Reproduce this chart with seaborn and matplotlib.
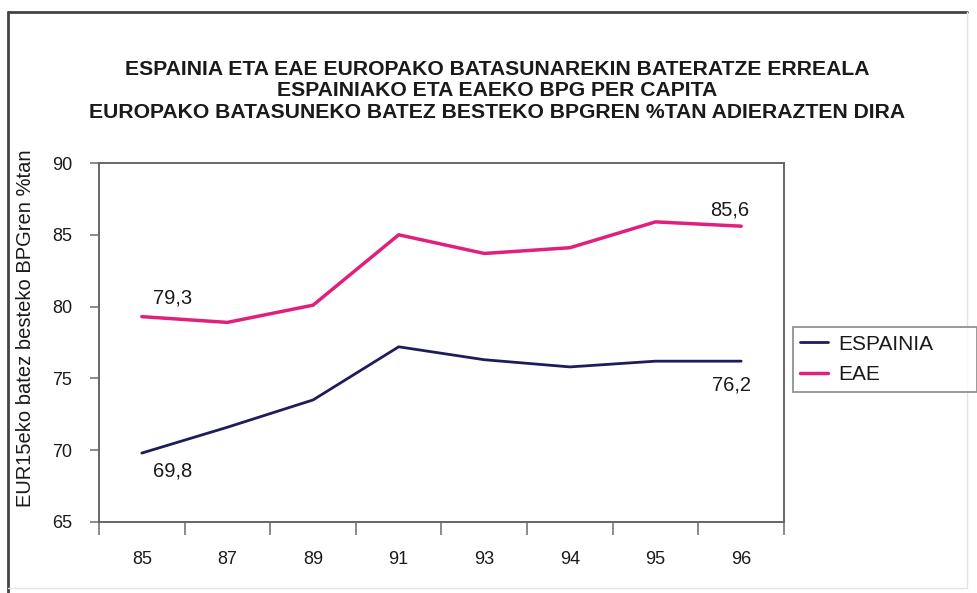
import matplotlib
matplotlib.use("Agg")
import matplotlib.pyplot as plt
import seaborn as sns
import pandas as pd
from matplotlib.lines import Line2D

years = ["85", "87", "89", "91", "93", "94", "95", "96"]
espainia = [69.8, 71.6, 73.5, 77.2, 76.3, 75.8, 76.2, 76.2]
eae = [79.3, 78.9, 80.1, 85.0, 83.7, 84.1, 85.9, 85.6]
series_names = ["ESPAINIA", "EAE"]
colors = {"ESPAINIA": "#1f1c5c", "EAE": "#e0207c"}
widths = {"ESPAINIA": 2.0, "EAE": 2.5}
title = ("ESPAINIA ETA EAE EUROPAKO BATASUNAREKIN BATERATZE ERREALA\n"
         "ESPAINIAKO ETA EAEKO BPG PER CAPITA\n"
         "EUROPAKO BATASUNEKO BATEZ BESTEKO BPGREN %TAN ADIERAZTEN DIRA")
ylabel = "EUR15eko batez besteko BPGren %tan"
yticks = [65, 70, 75, 80, 85, 90]

df = pd.DataFrame({
    "year": years * 2,
    "value": espainia + eae,
    "series": [series_names[0]] * len(years) + [series_names[1]] * len(years),
})

sns.set_theme(style="white")
plt.rcParams["font.family"] = ["Liberation Sans", "DejaVu Sans"]
TXT = "#1a1a1a"

fig = plt.figure(figsize=(9.78, 5.93), dpi=100)
ax = fig.add_axes([99 / 978, 1 - 522 / 593, (784 - 99) / 978, (522 - 163) / 593])

for name in series_names:
    sns.lineplot(data=df[df["series"] == name], x="year", y="value", color=colors[name],
                 linewidth=widths[name], ax=ax, legend=False, sort=False)

ax.set_xlim(-0.5, len(years) - 0.5)
ax.set_ylim(65, 90)
ax.set_yticks(yticks)
ax.set_yticklabels([str(v) for v in yticks], fontsize=13, color=TXT)
ax.set_xticks(range(len(years)))
ax.set_xticklabels(years, fontsize=13, color=TXT)
ax.set_xticks([i - 0.5 for i in range(len(years) + 1)], minor=True)
ax.tick_params(axis="x", which="major", length=0, pad=21)
ax.tick_params(axis="x", which="minor", length=9, width=1.2, color="#777777", direction="out", bottom=True)
ax.tick_params(axis="y", which="major", length=6.5, width=1.2, color="#777777", direction="out", left=True, pad=13)
ax.set_xlabel("")
ax.set_ylabel("")
for s in ax.spines.values():
    s.set_visible(True)
    s.set_color("#666666")
    s.set_linewidth(1.4)

# data labels
ax.annotate("79,3", (0, eae[0]), xytext=(8, 13.7), textcoords="offset points", fontsize=14.5,
            ha="left", va="center", color=TXT)
ax.annotate("69,8", (0, espainia[0]), xytext=(8, -13), textcoords="offset points", fontsize=14.5,
            ha="left", va="center", color=TXT)
ax.annotate("85,6", (7, eae[-1]), xytext=(-8, 11.5), textcoords="offset points", fontsize=14.5,
            ha="center", va="center", color=TXT)
ax.annotate("76,2", (7, espainia[-1]), xytext=(-7, -17), textcoords="offset points", fontsize=14.5,
            ha="center", va="center", color=TXT)

fig.text(26 / 978, 1 - 328 / 593, ylabel, rotation=90, fontsize=14.5, ha="center", va="center", color=TXT)
fig.text(497 / 978, 1 - 91 / 593, title, fontsize=15.2, fontweight="bold", ha="center", va="center",
         linespacing=1.18, color=TXT)

# legend
handles = [Line2D([0], [0], color=colors[n], lw=widths[n]) for n in series_names]
leg = fig.legend(handles, series_names, loc="center",
                 bbox_to_anchor=(793 / 978, 1 - 393 / 593, (977 - 793) / 978, (393 - 326) / 593),
                 mode="expand", borderaxespad=0, frameon=True, fontsize=15, handlelength=1.35,
                 handletextpad=0.45, borderpad=0.35, labelspacing=0.55,
                 fancybox=False, shadow=False, edgecolor="#777777")
leg.get_frame().set_linewidth(1.3)
for t in leg.get_texts():
    t.set_color(TXT)

# outer frame
fig.add_artist(Line2D([8 / 978, 8 / 978], [0, 1 - 12 / 593], transform=fig.transFigure,
                      color="#444444", lw=2.0))
fig.add_artist(Line2D([8 / 978, 967 / 978], [1 - 12 / 593, 1 - 12 / 593], transform=fig.transFigure,
                      color="#444444", lw=2.0))
fig.add_artist(Line2D([967 / 978, 967 / 978], [1 - 588 / 593, 1 - 12 / 593], transform=fig.transFigure,
                      color="#e4e4e4", lw=1.0))
fig.add_artist(Line2D([8 / 978, 967 / 978], [1 - 588 / 593, 1 - 588 / 593], transform=fig.transFigure,
                      color="#e4e4e4", lw=1.0))

fig.savefig("out.png", dpi=100)
